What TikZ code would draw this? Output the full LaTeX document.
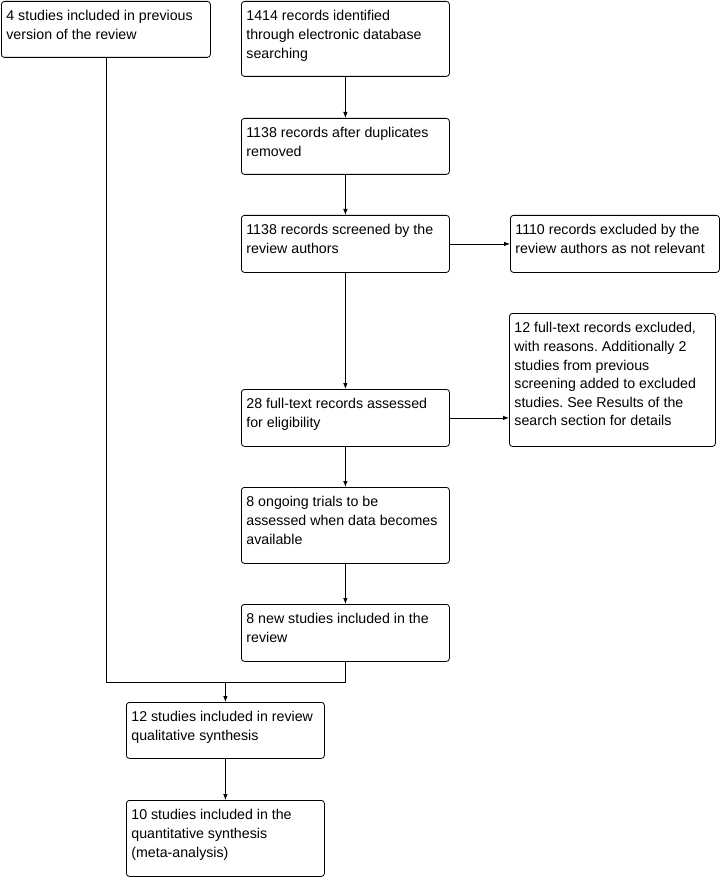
\documentclass[tikz,border=0pt]{standalone}
\usepackage{fontspec}
\setmainfont{Liberation Sans}
\usetikzlibrary{arrows.meta}
\frenchspacing
\newcommand\bx[3]{\parbox[c][#2pt][t]{\dimexpr#1pt-10pt\relax}{\raggedright\rule{0pt}{19.5pt}#3}}
\begin{document}
\begin{tikzpicture}[x=1pt,y=-1pt,
  box/.style={draw, rounded corners=3pt, inner xsep=5pt, inner ysep=0pt, anchor=north west, line width=0.8pt, font=\fontsize{14.2}{18.6}\selectfont},
  conn/.style={line width=0.8pt},
  arr/.style={conn, -{Latex[length=6pt,width=4.5pt]}}]
\useasboundingbox (0,0) rectangle (721,877);
\fill[white] (0,0) rectangle (721,877);
\node[box] (A) at (1,1)   {\bx{209}{56}{4 studies included in previous\\version of the review}};
\node[box] (B) at (241,1) {\bx{208}{75}{1414 records identified\\through electronic database\\searching}};
\node[box] (C) at (241,118) {\bx{208}{56}{1138 records after duplicates\\removed}};
\node[box] (D) at (241,215) {\bx{208}{57}{1138 records screened by the\\review authors}};
\node[box] (E) at (510,215) {\bx{209}{57}{1110 records excluded by the\\review authors as not relevant}};
\node[box] (G) at (509,313) {\bx{206}{133}{12 full-text records excluded,\\with reasons. Additionally 2\\studies from previous\\screening added to excluded\\studies. See Results of the\\search section for details}};
\node[box] (F) at (241,389) {\bx{208}{57}{28 full-text records assessed\\for eligibility}};
\node[box] (H) at (241,487) {\bx{208}{76}{8 ongoing trials to be\\assessed when data becomes\\available}};
\node[box] (I) at (241,604) {\bx{208}{57}{8 new studies included in the\\review}};
\node[box] (J) at (126,702) {\bx{198}{56}{12 studies included in review\\qualitative synthesis}};
\node[box] (K) at (126,800) {\bx{198}{76}{10 studies included in the\\quantitative synthesis\\(meta-analysis)}};
\coordinate (merge) at (J.north |- 0,682);
\draw[arr] (B) -- (C);
\draw[arr] (C) -- (D);
\draw[arr] (D) -- (E);
\draw[arr] (D) -- (F);
\draw[arr] (F.east) -- (F.east -| G.west);
\draw[arr] (F) -- (H);
\draw[arr] (H) -- (I);
\draw[conn] (A.south) -- (A.south |- merge) -- (I.south |- merge) -- (I.south);
\draw[arr] (merge) -- (J.north);
\draw[arr] (J) -- (K);
\end{tikzpicture}
\end{document}
